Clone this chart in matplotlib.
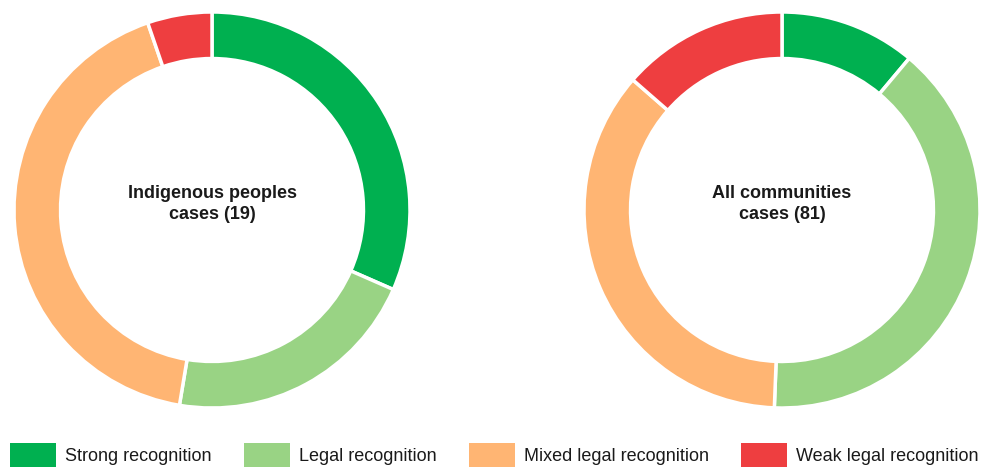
import matplotlib.pyplot as plt
from matplotlib.patches import Patch

categories = ["Strong recognition", "Legal recognition",
              "Mixed legal recognition", "Weak legal recognition"]
colors = ["#00b050", "#99d384", "#ffb573", "#ee3e40"]

indigenous = [6, 4, 8, 1]
all_comm = [9, 32, 29, 11]

titles = ["Indigenous peoples\ncases (19)", "All communities\ncases (81)"]

plt.rcParams["font.family"] = ["Liberation Sans", "DejaVu Sans"]

fig = plt.figure(figsize=(9.82, 4.68), dpi=100)

W, H = 982, 468
R = 198
centers = [(212, 210), (782, 210)]

for (cx, cy), vals, title in zip(centers, [indigenous, all_comm], titles):
    ax = fig.add_axes([(cx - R) / W, (H - cy - R) / H, 2 * R / W, 2 * R / H])
    ax.pie(vals, colors=colors, startangle=90, counterclock=False,
           radius=1.0,
           wedgeprops=dict(width=0.235, edgecolor="white", linewidth=2.5))
    ax.set_xlim(-1.0, 1.0)
    ax.set_ylim(-1.0, 1.0)
    ax.set_aspect("equal")
    ax.text(0, 0.03, title, ha="center", va="center", fontsize=13,
            fontweight="bold", color="#1a1a1a", linespacing=1.35)

handles = [Patch(facecolor=c, edgecolor="none") for c in colors]
fig.legend(handles, categories, loc="lower center", ncol=4, frameon=False,
           bbox_to_anchor=(0.5035, -0.02), fontsize=13, handlelength=2.55,
           handleheight=1.6, handletextpad=0.5, columnspacing=1.78,
           borderpad=0.1, labelcolor="#1a1a1a")

fig.savefig("out.png", dpi=100)
